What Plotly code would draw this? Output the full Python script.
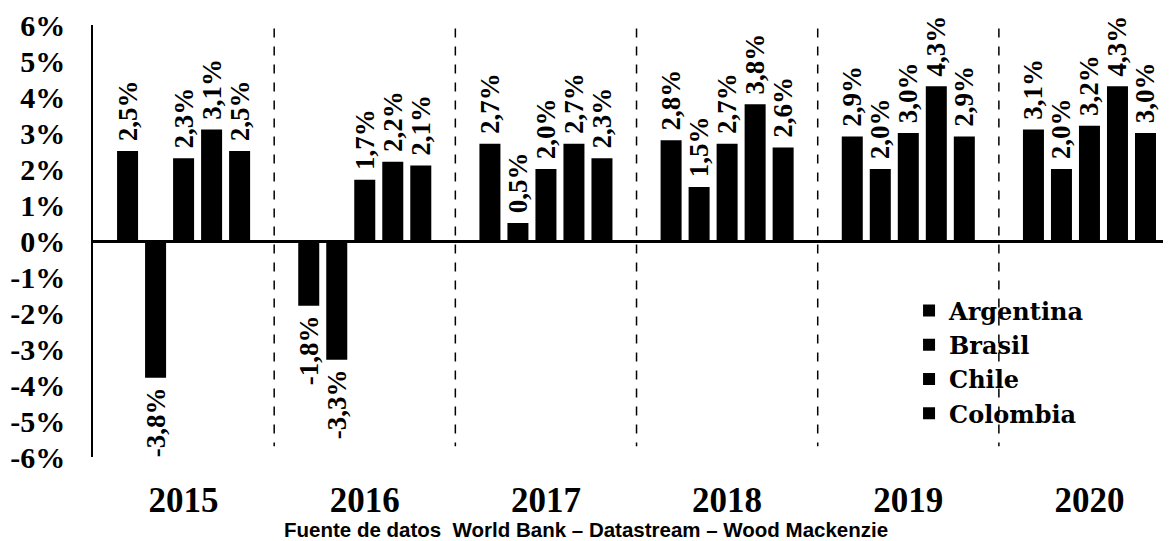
import plotly.graph_objects as go

# Data
years = ["2015", "2016", "2017", "2018", "2019", "2020"]
argentina = [2.5, -1.8, 2.7, 2.8, 2.9, 3.1]
brasil = [-3.8, -3.3, 0.5, 1.5, 2.0, 2.0]
chile = [2.3, 1.7, 2.0, 2.7, 3.0, 3.2]
colombia = [3.1, 2.2, 2.7, 3.8, 4.3, 4.3]
mexico = [2.5, 2.1, 2.3, 2.6, 2.9, 3.0]  # fifth series, not shown in legend

y_ticks = [-6, -5, -4, -3, -2, -1, 0, 1, 2, 3, 4, 5, 6]
y_ticktext = ["-6%", "-5%", "-4%", "-3%", "-2%", "-1%", "0%", "1%", "2%", "3%", "4%", "5%", "6%"]
source = "Fuente de datos  World Bank \u2013 Datastream \u2013 Wood Mackenzie"

series = [
    ("Argentina", argentina, True),
    ("Brasil", brasil, True),
    ("Chile", chile, True),
    ("Colombia", colombia, True),
    ("México", mexico, False),
]

label_font = dict(family="Liberation Serif", size=27, color="black")
NBSP = "\u00a0"


def fmt(v):
    s = f"{v:.1f}".replace(".", ",") + "%"
    # small padding between bar end and label
    return f"<b>{NBSP}{s}</b>" if v >= 0 else f"<b>{s}{NBSP}</b>"


fig = go.Figure()
for name, vals, show in series:
    fig.add_trace(
        go.Bar(
            x=years,
            y=vals,
            name=name,
            showlegend=show,
            marker=dict(color="black", line=dict(width=0)),
            text=[fmt(v) for v in vals],
            textposition="outside",
            textangle=-90,
            textfont=label_font,
            constraintext="none",
            cliponaxis=False,
        )
    )

# dashed separators between years
for i in range(len(years) - 1):
    fig.add_shape(
        type="line",
        xref="x",
        yref="y",
        x0=i + 0.5,
        x1=i + 0.5,
        y0=5.9,
        y1=-5.7,
        line=dict(color="black", width=1.5, dash="dash"),
        layer="below",
    )

fig.add_annotation(
    text=f"<b>{source}</b>",
    xref="paper",
    yref="paper",
    x=0.457,
    y=-0.168,
    xanchor="center",
    yanchor="middle",
    showarrow=False,
    font=dict(family="Liberation Sans", size=20.5, color="black"),
)

# page body adds an 8px offset, so the figure is 8px smaller than the window
fig.update_layout(
    width=1163,
    height=533,
    margin=dict(l=85, r=0, t=12, b=84),
    plot_bgcolor="white",
    paper_bgcolor="white",
    barmode="group",
    bargap=0.227,
    bargroupgap=0.25,
    legend=dict(
        x=0.757,
        y=0.39,
        xanchor="left",
        yanchor="top",
        bgcolor="rgba(0,0,0,0)",
        font=dict(family="DejaVu Serif", size=24, color="black", weight="bold"),
        itemwidth=30,
    ),
    showlegend=True,
)
fig.update_xaxes(
    range=[-0.5, 5.45],
    showline=False,
    showgrid=False,
    ticks="outside",
    ticklen=12,
    tickcolor="white",
    tickfont=dict(family="Liberation Serif", size=35, color="black"),
    tickprefix="<b>",
    ticksuffix="</b>",
)
fig.update_yaxes(
    range=[-6, 6],
    tickvals=y_ticks,
    ticktext=[f"<b>{t}</b>" for t in y_ticktext],
    tickfont=dict(family="Liberation Serif", size=30, color="black"),
    ticklabeloverflow="allow",
    showline=True,
    linecolor="black",
    linewidth=1.5,
    showgrid=False,
    zeroline=True,
    zerolinecolor="black",
    zerolinewidth=2.5,
    ticks="outside",
    ticklen=20,
    tickcolor="white",
)

fig.write_html("out.html")
